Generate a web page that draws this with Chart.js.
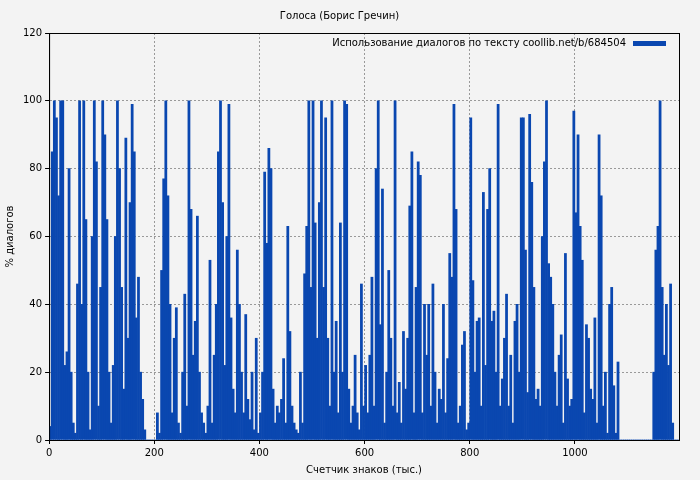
<!DOCTYPE html>
<html><head><meta charset="utf-8">
<script src="https://cdn.jsdelivr.net/npm/chart.js@4"></script>
<style>html,body{margin:0;background:#f3f3f3}#w{width:700px;height:480px}</style>
</head><body><div id="w"><canvas id="c"></canvas></div>
<script>
const title = "Голоса (Борис Гречин)";
const seriesLabel = "Использование диалогов по тексту coollib.net/b/684504";
const xStep = 4;
const values = [
4,85,100,95,72,100,100,22,26,80,20,5,2,46,100,40,100,65,20,3,60,100,82,10,45,
100,90,65,20,5,22,60,100,80,45,15,89,30,70,99,85,36,48,20,12,3,0,0,0,0,
0,8,2,50,77,100,72,40,8,30,39,5,2,20,43,10,100,68,25,35,66,20,8,5,2,
10,53,5,25,40,85,100,70,22,60,99,36,15,8,56,40,20,8,37,12,6,20,3,30,2,
8,20,79,58,86,80,15,5,10,8,12,24,5,63,32,10,5,3,2,20,5,49,63,100,45,
100,64,30,70,100,45,95,30,10,100,20,35,8,64,20,100,99,15,5,10,25,8,3,46,10,
22,8,25,48,10,80,100,34,74,5,20,50,30,10,100,8,17,5,32,15,30,69,85,8,45,
82,78,8,40,25,40,10,46,20,5,15,12,40,8,24,55,48,99,68,5,10,28,32,3,5,
95,47,20,35,36,10,73,22,68,80,35,38,20,99,10,18,30,43,10,25,5,35,40,20,95,
95,56,14,96,76,45,12,15,10,60,82,100,52,48,40,20,10,25,31,5,55,18,10,12,97,
67,90,63,53,8,34,30,15,12,36,5,90,72,10,20,2,40,45,16,2,23,0,0,0,0,
0,0,0,0,0,0,0,0,0,0,0,0,20,56,63,100,45,25,40,22,46,5,0,0,0
];
const yTicks = [0,20,40,60,80,100,120];
const xTicks = [0,200,400,600,800,1000];
const color = '#0a47b0';
const pts = values.map((v,i)=>({x:i*xStep+xStep/2,y:v}));
const grid = {color:'#999',lineWidth:1,drawTicks:true,tickColor:'#000',tickLength:4,offset:false};
const border = {color:'#000',dash:[2,2]};
const legendPlugin = {id:'lg',afterDraw(ch){
  const ctx=ch.ctx,a=ch.chartArea;ctx.save();
  ctx.font='10px "DejaVu Sans"';ctx.fillStyle='#000';ctx.textAlign='right';ctx.textBaseline='middle';
  ctx.fillText(ch.data.datasets[0].label,a.right-53,43);
  ctx.fillStyle=color;ctx.fillRect(a.right-46,41,33,5);
  ctx.strokeStyle='#000';ctx.lineWidth=1;ctx.setLineDash([]);
  ctx.strokeRect(a.left+0.5,a.top+0.5,a.right-a.left,a.bottom-a.top);ctx.restore();}};
new Chart(document.getElementById('c'),{
 type:'bar',
 data:{datasets:[{label:seriesLabel,data:pts,backgroundColor:color,borderWidth:0,barPercentage:1,categoryPercentage:1}]},
 plugins:[legendPlugin],
 options:{responsive:true,maintainAspectRatio:false,animation:false,
  layout:{padding:{left:0,right:21,top:0,bottom:0}},
  plugins:{legend:{display:false},tooltip:{enabled:false},
   title:{display:true,text:title,color:'#000',font:{family:'DejaVu Sans',size:10,weight:'normal'},padding:{top:10,bottom:11}}},
  scales:{
   x:{type:'linear',min:0,max:1198,offset:false,border:border,grid:grid,
      afterBuildTicks:s=>{s.ticks=xTicks.map(v=>({value:v}))},
      ticks:{color:'#000',font:{family:'DejaVu Sans',size:10},maxRotation:0,callback:v=>String(v)},
      title:{display:true,text:'Счетчик знаков (тыс.)',color:'#000',font:{family:'DejaVu Sans',size:10},padding:{top:2}}},
   y:{min:0,max:120,border:border,grid:grid,
      afterBuildTicks:s=>{s.ticks=yTicks.map(v=>({value:v}))},
      ticks:{color:'#000',font:{family:'DejaVu Sans',size:10}},
      title:{display:true,text:'% диалогов',color:'#000',font:{family:'DejaVu Sans',size:10}}}
  }}
});
</script></body></html>
